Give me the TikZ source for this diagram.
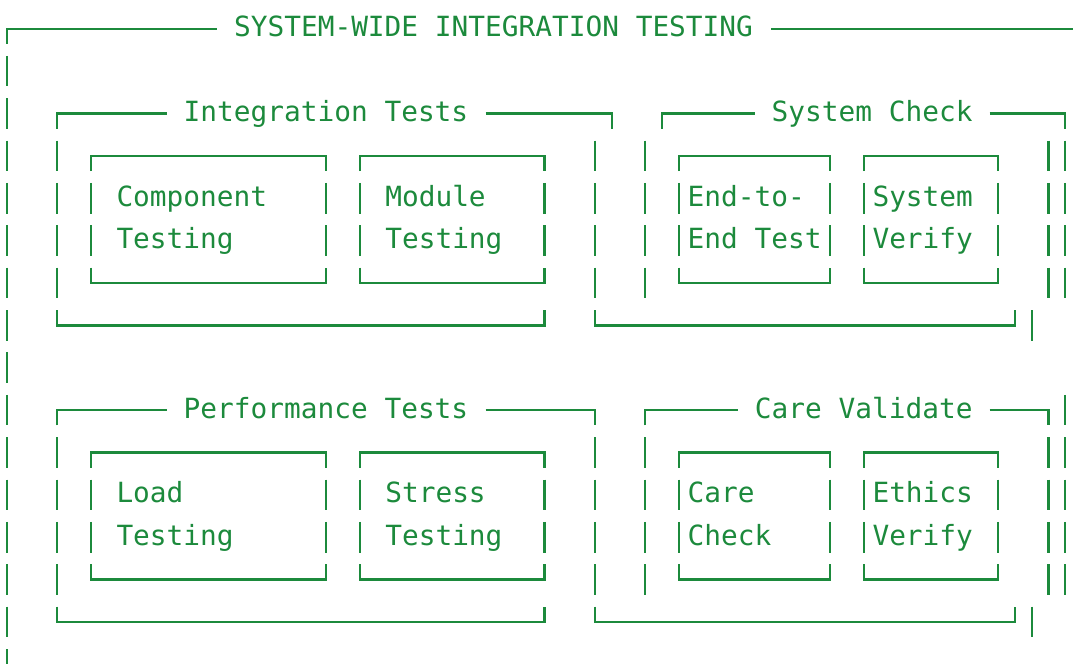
\documentclass[tikz,border=0pt]{standalone}
\usepackage{fontspec}
\usepackage{tikz}
\newfontfamily\asciifont{DejaVu Sans Mono}
\definecolor{TermGreen}{HTML}{1C8A3C}
% one small box: columns #1..#2, top row #3, three rows high
\newcommand{\innerbox}[3]{%
  \draw[ln] (#1,#3+.361) -- (#1,#3) -- (#2,#3) -- (#2,#3+.361);
  \draw[bar] (#1,#3+.639) -- (#1,#3+2.361);
  \draw[bar] (#2,#3+.639) -- (#2,#3+2.361);
  \draw[ln] (#1,#3+2.639) -- (#1,#3+3) -- (#2,#3+3) -- (#2,#3+2.639);
}

\begin{document}
\begin{tikzpicture}[x=8.4pt, y=-21.19pt,
  ln/.style={draw=TermGreen, line width=1.15pt},
  bar/.style={ln, dash pattern=on 15.3pt off 5.89pt},
  lbl/.style={font=\asciifont\fontsize{13.9pt}{16pt}\selectfont, text=TermGreen, anchor=base west, inner sep=0pt}]
  \path[use as bounding box] (-0.411,-0.677) rectangle (63.458,14.967);
  \clip (-0.411,-0.677) rectangle (63.458,14.967);

  % outer frame
  \draw[ln] (0,.361) -- (0,0) -- (12.5,0);
  \node[lbl] (title) at (13.5,.19) {SYSTEM-WIDE INTEGRATION TESTING};
  \draw[ln] (45.5,0) -- (63.6,0);
  \draw[bar] (0,.639) -- (0,15.361);

  % upper left group
  \draw[ln] (3,2.361) -- (3,2) -- (9.5,2);
  \node[lbl] (intHead) at (10.5,2.19) {Integration Tests};
  \draw[ln] (28.5,2) -- (36,2) -- (36,2.361);
  \draw[bar] (3,2.639) -- (3,6.361);
  \draw[bar] (35,2.639) -- (35,6.361);
  \draw[ln] (3,6.639) -- (3,7) -- (32,7) -- (32,6.639);
  \innerbox{5}{19}{3}
  \innerbox{21}{32}{3}
  \node[lbl] (compA) at (6.5,4.19) {Component};
  \node[lbl] (compB) at (6.5,5.19) {Testing};
  \node[lbl] (modA) at (22.5,4.19) {Module};
  \node[lbl] (modB) at (22.5,5.19) {Testing};

  % upper right group
  \draw[ln] (39,2.361) -- (39,2) -- (44.5,2);
  \node[lbl] (sysHead) at (45.5,2.19) {System Check};
  \draw[ln] (58.5,2) -- (63,2) -- (63,2.361);
  \draw[bar] (38,2.639) -- (38,6.361);
  \draw[bar] (62,2.639) -- (62,6.361);
  \draw[bar] (63,2.639) -- (63,6.361);
  \draw[ln] (35,6.639) -- (35,7) -- (60,7) -- (60,6.639);
  \draw[bar] (61,6.639) -- (61,7.361);
  \innerbox{40}{49}{3}
  \innerbox{51}{59}{3}
  \node[lbl] (eteA) at (40.5,4.19) {End-to-};
  \node[lbl] (eteB) at (40.5,5.19) {End Test};
  \node[lbl] (verA) at (51.5,4.19) {System};
  \node[lbl] (verB) at (51.5,5.19) {Verify};

  % lower left group
  \draw[ln] (3,9.361) -- (3,9) -- (9.5,9);
  \node[lbl] (perfHead) at (10.5,9.19) {Performance Tests};
  \draw[ln] (28.5,9) -- (35,9) -- (35,9.361);
  \draw[bar] (3,9.639) -- (3,13.361);
  \draw[bar] (35,9.639) -- (35,13.361);
  \draw[ln] (3,13.639) -- (3,14) -- (32,14) -- (32,13.639);
  \innerbox{5}{19}{10}
  \innerbox{21}{32}{10}
  \node[lbl] (loadA) at (6.5,11.19) {Load};
  \node[lbl] (loadB) at (6.5,12.19) {Testing};
  \node[lbl] (strA) at (22.5,11.19) {Stress};
  \node[lbl] (strB) at (22.5,12.19) {Testing};

  % lower right group
  \draw[ln] (38,9.361) -- (38,9) -- (43.5,9);
  \node[lbl] (careHead) at (44.5,9.19) {Care Validate};
  \draw[ln] (58.5,9) -- (62,9) -- (62,9.361);
  \draw[bar] (38,9.639) -- (38,13.361);
  \draw[bar] (62,9.639) -- (62,13.361);
  \draw[bar] (63,8.639) -- (63,13.361);
  \draw[ln] (35,13.639) -- (35,14) -- (60,14) -- (60,13.639);
  \draw[bar] (61,13.639) -- (61,14.361);
  \innerbox{40}{49}{10}
  \innerbox{51}{59}{10}
  \node[lbl] (chkA) at (40.5,11.19) {Care};
  \node[lbl] (chkB) at (40.5,12.19) {Check};
  \node[lbl] (ethA) at (51.5,11.19) {Ethics};
  \node[lbl] (ethB) at (51.5,12.19) {Verify};
\end{tikzpicture}
\end{document}
